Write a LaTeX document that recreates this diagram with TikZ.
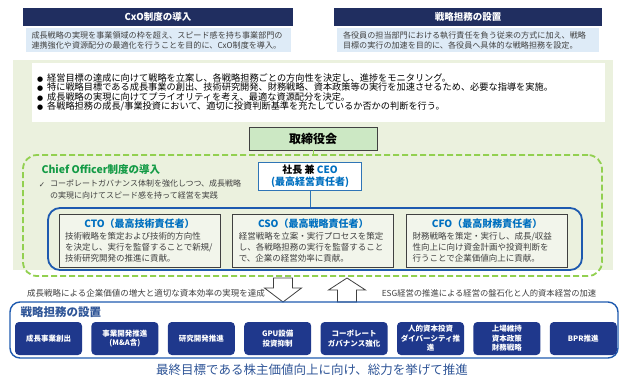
\documentclass[tikz,border=0pt]{standalone}
\usepackage{fontspec}
\setmainfont{Noto Sans CJK JP}
\newfontfamily\symfont{DejaVu Sans}
\usepackage{xcolor}
\usepackage{tikz}
\usetikzlibrary{positioning}
\definecolor{headnavy}{RGB}{32,46,96}
\definecolor{desclight}{RGB}{222,235,247}
\definecolor{txtgray}{RGB}{64,64,64}
\definecolor{panelgreen}{RGB}{235,241,222}
\definecolor{dashgreen}{RGB}{146,208,80}
\definecolor{boardgreen}{RGB}{204,232,196}
\definecolor{cogreen}{RGB}{20,155,70}
\definecolor{ceoblue}{RGB}{46,117,182}
\definecolor{offblue}{RGB}{0,112,192}
\definecolor{frameblue}{RGB}{30,90,175}
\definecolor{offfill}{RGB}{242,245,235}
\definecolor{dutynavy}{RGB}{31,56,140}
\definecolor{goalblue}{RGB}{47,85,151}
\newcommand{\bul}{{\symfont\fontsize{7}{9}\selectfont ●}\hspace{4pt}}
\newcommand{\offtitlefont}{\fontsize{10}{12}\selectfont\bfseries\color{offblue}}

\begin{document}
\begin{tikzpicture}[
  x=1pt, y=-1pt,
  font=\fontsize{8.5}{11}\selectfont,
  headbox/.style={fill=headnavy, text=white, font=\fontsize{9.5}{11}\selectfont\bfseries,
    minimum height=18, inner sep=0},
  descbox/.style={fill=desclight, text=txtgray, font=\fontsize{8.1}{10}\selectfont,
    align=left, minimum height=24, inner xsep=6, inner ysep=0},
  board/.style={draw=txtgray, fill=boardgreen, line width=0.9pt,
    font=\fontsize{12}{14}\selectfont\bfseries, minimum width=128, minimum height=23},
  dashframe/.style={draw=dashgreen, line width=1.8pt, dash pattern=on 6pt off 3pt,
    rounded corners=14pt, inner sep=0},
  ceobox/.style={draw=ceoblue, fill=white, line width=1pt, align=center,
    font=\fontsize{10}{12}\selectfont\bfseries, minimum width=103, minimum height=28, inner sep=0},
  offframe/.style={draw=frameblue, line width=1.8pt, rounded corners=12pt, inner sep=0},
  offbox/.style={draw=txtgray, fill=offfill, line width=0.8pt, align=left,
    text=txtgray, text width=149, minimum height=53, inner xsep=6, inner ysep=0},
  blockarrow/.style={draw=txtgray, fill=white, line width=0.8pt, line join=miter},
  dutyframe/.style={draw=frameblue, line width=1.4pt, rounded corners=10pt, inner sep=0},
  dutybox/.style={fill=dutynavy, text=white, rounded corners=4pt, align=center,
    font=\fontsize{7.5}{9.5}\selectfont\bfseries, minimum width=67, minimum height=33, inner sep=0}
]
\useasboundingbox (0,0) rectangle (624,381);

% top: two introductions
\node[headbox, minimum width=270] (hcxo) at (158,17) {CxO制度の導入};
\node[descbox, minimum width=265, text width=253, below=2pt of hcxo] (dcxo)
  {成長戦略の実現を事業領域の枠を超え、スピード感を持ち事業部門の\\連携強化や資源配分の最適化を行うことを目的に、CxO制度を導入。};
\node[headbox, minimum width=268] (hduty) at (468,17) {戦略担務の設置};
\node[descbox, minimum width=262, text width=250, below=2pt of hduty] (dduty)
  {各役員の担当部門における執行責任を負う従来の方式に加え、戦略\\目標の実行の加速を目的に、各役員へ具体的な戦略担務を設定。};

% board panel
\node[fill=panelgreen, minimum width=600, minimum height=210, inner sep=0] (panel) at (313,165) {};
\node[fill=white, minimum width=573, minimum height=59, inner xsep=5, inner ysep=0,
  text width=563, align=left, font=\fontsize{9.2}{9.4}\selectfont] (goals) at (318.5,92.5)
  {\bul 経営目標の達成に向けて戦略を立案し、各戦略担務ごとの方向性を決定し、進捗をモニタリング。\\
   \bul 特に戦略目標である成長事業の創出、技術研究開発、財務戦略、資本政策等の実行を加速させるため、必要な指導を実施。\\
   \bul 成長戦略の実現に向けてプライオリティを考え、最適な資源配分を決定。\\
   \bul 各戦略担務の成長/事業投資において、適切に投資判断基準を充たしているか否かの判断を行う。};
\node[board] (board) at (313,138.5) {取締役会};

% chief officer frame
\node[dashframe, minimum width=579, minimum height=121] (cofr) at (312.5,215.5) {};
\node[anchor=west, text=cogreen, font=\fontsize{10.5}{12}\selectfont\bfseries] (cotit) at (38,170)
  {Chief Officer制度の導入};
\node[anchor=north west, align=left, text=txtgray, inner sep=0,
  font=\fontsize{8}{11.7}\selectfont] (cotxt) at (50,180)
  {コーポレートガバナンス体制を強化しつつ、成長戦略\\の実現に向けてスピード感を持って経営を実践};
\node[text=txtgray, font=\symfont\fontsize{7.5}{9}\selectfont, inner sep=0] (cochk) at (42,185) {✓};
\node[ceobox] (ceo) at (310,176)
  {社長 兼 \textcolor{offblue}{CEO}\\\textcolor{offblue}{(最高経営責任者)}};

\node[offframe, minimum width=534, minimum height=62] (offc) at (315,239) {};
\node[offbox] (cto) at (139.5,240.5)
  {\makebox[\linewidth]{\offtitlefont CTO（最高技術責任者）}\\[1.5pt]
   技術戦略を策定および技術的方向性\\を決定し、実行を監督することで新規/\\技術研究開発の推進に貢献。};
\node[offbox, right=12pt of cto] (cso)
  {\makebox[\linewidth]{\offtitlefont CSO（最高戦略責任者）}\\[1.5pt]
   経営戦略を立案・実行プロセスを策定\\し、各戦略担務の実行を監督すること\\で、企業の経営効率に貢献。};
\node[offbox, right=12pt of cso] (cfo)
  {\makebox[\linewidth]{\offtitlefont CFO（最高財務責任者）}\\[1.5pt]
   財務戦略を策定・実行し、成長/収益\\性向上に向け資金計画や投資判断を\\行うことで企業価値向上に貢献。};

\draw[dashgreen, line width=0.8pt] (board.south) -- (board.south |- cofr.north);
\draw[ceoblue, line width=1pt] (ceo.south) -- (ceo.south |- offc.north);

% block arrows and captions
\coordinate (adown) at (283,278);
\coordinate (aup) at (347,278);
\draw[blockarrow] (adown) ++(-9.5,0) -- ++(19,0) -- ++(0,10) -- ++(9,0) -- ++(-18.5,14)
  -- ++(-18.5,-14) -- ++(9,0) -- cycle;
\draw[blockarrow] (aup) -- ++(18.5,12) -- ++(-9,0) -- ++(0,12) -- ++(-19,0) -- ++(0,-12)
  -- ++(-9,0) -- cycle;
\node[text=txtgray] (capl) at (146,293) {成長戦略による企業価値の増大と適切な資本効率の実現を達成};
\node[text=txtgray, font=\fontsize{8.3}{10}\selectfont] (capr) at (489,293)
  {ESG経営の推進による経営の盤石化と人的資本経営の加速};

% strategic duties
\node[dutyframe, minimum width=608, minimum height=56] (dutyc) at (314,330) {};
\node[anchor=west, text=goalblue, font=\fontsize{11.5}{13}\selectfont\bfseries] (dutyt) at (17,312)
  {戦略担務の設置};
\node[dutybox] (s1) at (48.5,338.5) {成長事業創出};
\node[dutybox, right=9pt of s1] (s2) {事業開発推進\\(M\&A含)};
\node[dutybox, right=9pt of s2] (s3) {研究開発推進};
\node[dutybox, right=9pt of s3] (s4) {GPU設備\\投資抑制};
\node[dutybox, right=9pt of s4] (s5) {コーポレート\\ガバナンス強化};
\node[dutybox, right=9pt of s5] (s6) {人的資本投資\\ダイバーシティ推\\進};
\node[dutybox, right=9pt of s6] (s7) {上場維持\\資本政策\\財務戦略};
\node[dutybox, right=9pt of s7] (s8) {BPR推進};

\node[text=goalblue, font=\fontsize{12.5}{14}\selectfont] (goal) at (312,370)
  {最終目標である株主価値向上に向け、総力を挙げて推進};
\end{tikzpicture}
\end{document}
